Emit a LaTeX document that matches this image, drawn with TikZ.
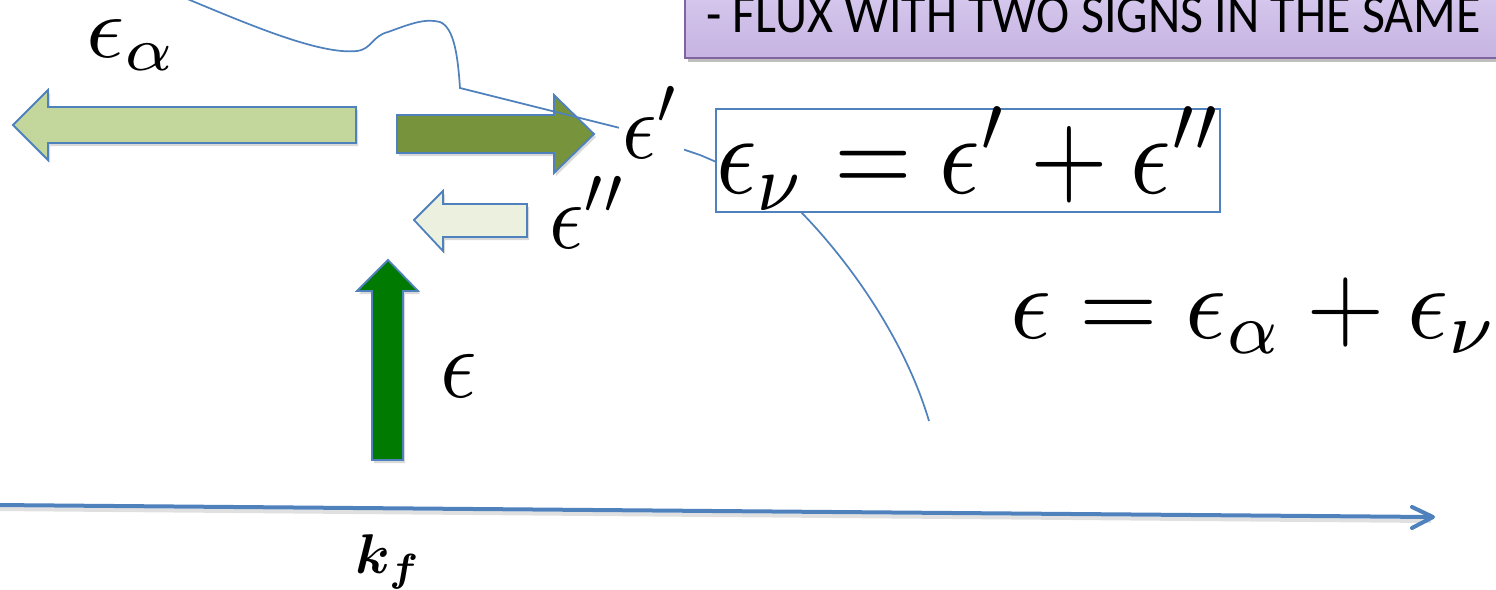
\documentclass[tikz,border=0pt]{standalone}
\usepackage{amsmath}
\usepackage{bm}
\usepackage{fontspec}
\newfontfamily\calib{Carlito}
\usepackage{graphicx}
\definecolor{lineblue}{HTML}{4F81BD}
\definecolor{lightgreen}{HTML}{C3D69B}
\definecolor{olive}{HTML}{77933C}
\definecolor{palegreen}{HTML}{EBF1DE}
\definecolor{darkgreen}{HTML}{007A00}
\definecolor{purplefillA}{HTML}{D6C9EE}
\definecolor{purplefillB}{HTML}{C6B3E1}
\definecolor{purpleedge}{HTML}{8064A2}
\tikzset{
  blockarrow/.style={draw=lineblue, line width=1.8pt, line join=miter,
    preaction={fill=black, opacity=0.15, transform canvas={shift={(2pt,-3pt)}}}},
  thincurve/.style={draw=lineblue, line width=1.7pt},
  axisline/.style={draw=lineblue, line width=4pt, line cap=round, line join=round},
  mathlabel/.style={anchor=base west, inner sep=0pt},
}
\begin{document}
\begin{tikzpicture}[x=1pt,y=-1pt]
\useasboundingbox (0,0) rectangle (1496,589);
\clip (0,0) rectangle (1496,589);
\fill[white] (0,0) rectangle (1496,589);

% purple header box
\fill[black, opacity=0.25] (688,-10) rectangle (1520,62);
\draw[draw=purpleedge, line width=1.5pt, top color=purplefillA, bottom color=purplefillB] (685,-10) rectangle (1520,58);
\node[anchor=base west, inner sep=0pt, font=\calib\fontsize{45}{50}\selectfont] (header) at (706,32) {\scalebox{1.11}[1.22]{- FLUX WITH TWO SIGNS IN THE SAME}};

% block arrows
\path[blockarrow, fill=lightgreen] (13,125) -- (48,90) -- (48,107) -- (356,107) -- (356,143) -- (48,143) -- (48,160) -- cycle;
\path[blockarrow, fill=olive] (397,115) -- (554,115) -- (554,95) -- (594,134) -- (554,173) -- (554,153) -- (397,153) -- cycle;
\path[blockarrow, fill=palegreen] (414,220) -- (443,191) -- (443,204) -- (527,204) -- (527,237) -- (443,237) -- (443,251) -- cycle;
\path[blockarrow, fill=darkgreen] (388,260) -- (418,291) -- (403,291) -- (403,460) -- (372,460) -- (372,291) -- (357,291) -- cycle;

% thin curve
\draw[thincurve] (185,-2) .. controls (250,25) and (320,55) .. (357,51)
  .. controls (372,49) and (372,36) .. (388,32)
  .. controls (410,24) and (425,18) .. (440,22)
  .. controls (455,28) and (458,60) .. (460,88)
  -- (620,128) -- (700,155)
  .. controls (740,172) and (780,190) .. (800,211)
  .. controls (850,262) and (905,340) .. (929,421);

% labels
\node[mathlabel] (ealpha) at (86,57) {\scalebox{9.4}[8.8]{$\epsilon_\alpha$}};
\node[mathlabel, fill=white, inner sep=3pt] (eprime) at (619,158) {\scalebox{8.5}[9.5]{$\epsilon'$}};
\node[mathlabel] (edprime) at (549,248) {\scalebox{8.5}[9.5]{$\epsilon''$}};
\node[mathlabel] (eps) at (440,397) {\scalebox{9}[10]{$\epsilon$}};
\node[mathlabel] (kf) at (355,573) {\scalebox{5.6}{$\bm{k_f}$}};

% boxed equation
\node[draw=lineblue, line width=1.5pt, fill=white, anchor=north west, minimum width=504pt, minimum height=103pt] (eqbox) at (715,108) {};
\node[mathlabel] (eqnu) at (716,193) {\scalebox{10}[11.5]{$\epsilon_\nu=\epsilon'+\epsilon''$}};

% total equation
\node[mathlabel] (eqtot) at (1010,338) {\scalebox{10.1}[10.4]{$\epsilon=\epsilon_\alpha+\epsilon_\nu$}};

% axis
\coordinate (ax0) at (-5,505);
\coordinate (ax1) at (1431,517);
\coordinate (axt) at (1433,517);
\draw[line width=4pt, black, opacity=0.12] (-5,509) -- (1431,521);
\draw[axisline] (ax0) -- (ax1);
\draw[axisline] (1412,507) -- (axt) -- (1412,528);
\end{tikzpicture}
\end{document}
